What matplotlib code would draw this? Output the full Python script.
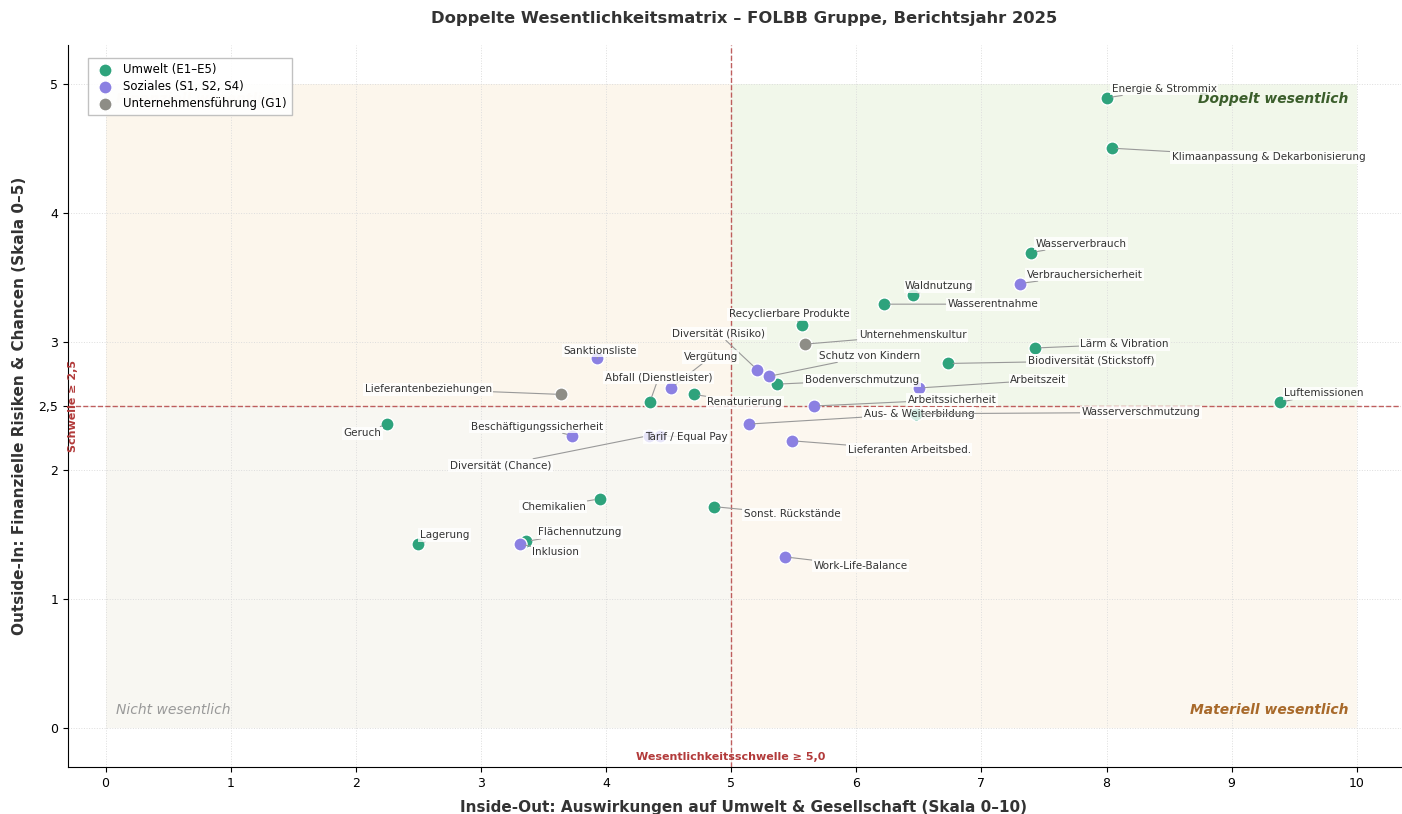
import numpy as np
import matplotlib
matplotlib.use("Agg")
import matplotlib.pyplot as plt
from matplotlib.patches import Rectangle

# --- data -------------------------------------------------------------
topics = [
    "Energie & Strommix", "Klimaanpassung & Dekarbonisierung", "Wasserverbrauch",
    "Verbrauchersicherheit", "Waldnutzung", "Wasserentnahme", "Recyclierbare Produkte",
    "Unternehmenskultur", "Lärm & Vibration", "Biodiversität (Stickstoff)",
    "Diversität (Risiko)", "Schutz von Kindern", "Bodenverschmutzung", "Vergütung",
    "Renaturierung", "Abfall (Dienstleister)", "Sanktionsliste", "Lieferantenbeziehungen",
    "Geruch", "Beschäftigungssicherheit", "Diversität (Chance)", "Tarif / Equal Pay",
    "Arbeitszeit", "Arbeitssicherheit", "Aus- & Weiterbildung", "Wasserverschmutzung",
    "Lieferanten Arbeitsbed.", "Luftemissionen", "Chemikalien", "Sonst. Rückstände",
    "Lagerung", "Flächennutzung", "Inklusion", "Work-Life-Balance",
]
impact = [8.00, 8.04, 7.40, 7.31, 6.45, 6.22, 5.57, 5.59, 7.43, 6.73,
          5.21, 5.30, 5.37, 4.52, 4.70, 4.35, 3.93, 3.64, 2.25, 3.73,
          4.34, 4.43, 6.50, 5.66, 5.14, 6.48, 5.49, 9.39, 3.95, 4.86,
          2.50, 3.36, 3.31, 5.43]
financial = [4.89, 4.50, 3.69, 3.45, 3.36, 3.29, 3.13, 2.98, 2.95, 2.83,
             2.78, 2.73, 2.67, 2.64, 2.59, 2.53, 2.87, 2.59, 2.36, 2.27,
             2.27, 2.27, 2.64, 2.50, 2.36, 2.44, 2.23, 2.53, 1.78, 1.72,
             1.43, 1.45, 1.43, 1.33]
category = ["E", "E", "E", "S", "E", "E", "E", "G", "E", "E",
            "S", "S", "E", "S", "E", "E", "S", "G", "E", "S",
            "S", "S", "S", "S", "S", "E", "S", "E", "E", "E",
            "E", "E", "S", "S"]

cat_names = {"E": "Umwelt (E1–E5)", "S": "Soziales (S1, S2, S4)",
             "G": "Unternehmensführung (G1)"}
cat_colors = {"E": "#2ea37c", "S": "#8b80e2", "G": "#8e8d86"}

# label placement (left edge of text, data coords)
label_pos = {
    "Energie & Strommix": (8.04, 4.96),
    "Klimaanpassung & Dekarbonisierung": (8.52, 4.43),
    "Wasserverbrauch": (7.43, 3.76),
    "Verbrauchersicherheit": (7.36, 3.52),
    "Waldnutzung": (6.39, 3.43),
    "Wasserentnahme": (6.73, 3.29),
    "Recyclierbare Produkte": (4.98, 3.21),
    "Unternehmenskultur": (6.02, 3.05),
    "Lärm & Vibration": (7.79, 2.98),
    "Biodiversität (Stickstoff)": (7.37, 2.85),
    "Diversität (Risiko)": (4.53, 3.06),
    "Schutz von Kindern": (5.70, 2.89),
    "Bodenverschmutzung": (5.59, 2.70),
    "Vergütung": (4.62, 2.88),
    "Renaturierung": (4.81, 2.53),
    "Abfall (Dienstleister)": (3.99, 2.72),
    "Sanktionsliste": (3.66, 2.93),
    "Lieferantenbeziehungen": (2.07, 2.63),
    "Geruch": (1.90, 2.29),
    "Beschäftigungssicherheit": (2.92, 2.34),
    "Diversität (Chance)": (2.75, 2.04),
    "Tarif / Equal Pay": (4.31, 2.26),
    "Arbeitszeit": (7.23, 2.70),
    "Arbeitssicherheit": (6.41, 2.55),
    "Aus- & Weiterbildung": (6.06, 2.44),
    "Wasserverschmutzung": (7.80, 2.45),
    "Lieferanten Arbeitsbed.": (5.93, 2.16),
    "Luftemissionen": (9.42, 2.60),
    "Chemikalien": (3.32, 1.72),
    "Sonst. Rückstände": (5.10, 1.66),
    "Lagerung": (2.51, 1.50),
    "Flächennutzung": (3.46, 1.52),
    "Inklusion": (3.41, 1.37),
    "Work-Life-Balance": (5.66, 1.26),
}

x_thr, y_thr = 5.0, 2.5
red = "#b23a3a"

# --- figure -----------------------------------------------------------
fig = plt.figure(figsize=(14.02, 8.14), dpi=100)
ax = fig.add_axes([0.0485, 0.0577, 0.9505, 0.887])

# quadrant backgrounds
ax.add_patch(Rectangle((0, y_thr), x_thr, 5 - y_thr, color="#fcf6ec", zorder=0, lw=0))
ax.add_patch(Rectangle((x_thr, y_thr), 10 - x_thr, 5 - y_thr, color="#f1f7ea", zorder=0, lw=0))
ax.add_patch(Rectangle((0, 0), x_thr, y_thr, color="#f8f7f2", zorder=0, lw=0))
ax.add_patch(Rectangle((x_thr, 0), 10 - x_thr, y_thr, color="#fcf7ef", zorder=0, lw=0))

ax.text(9.93, 4.88, "Doppelt wesentlich", ha="right", va="center", fontsize=10,
        fontweight="bold", style="italic", color="#3b5e2b", zorder=1)
ax.text(0.08, 4.88, "Finanziell wesentlich", ha="left", va="center", fontsize=10,
        fontweight="bold", style="italic", color="#f2e6d2", zorder=1)
ax.text(9.93, 0.14, "Materiell wesentlich", ha="right", va="center", fontsize=10,
        fontweight="bold", style="italic", color="#a8692a", zorder=1)
ax.text(0.08, 0.14, "Nicht wesentlich", ha="left", va="center", fontsize=10,
        style="italic", color="#999999", zorder=1)

# thresholds
ax.axvline(x_thr, color=red, ls="--", lw=1, alpha=0.8, zorder=2)
ax.axhline(y_thr, color=red, ls="--", lw=1, alpha=0.8, zorder=2)
ax.text(x_thr, -0.22, "Wesentlichkeitsschwelle ≥ 5,0", ha="center", va="center",
        fontsize=8, fontweight="bold", color=red)
ax.text(-0.26, y_thr, "Schwelle ≥ 2,5", ha="center", va="center", rotation=90,
        fontsize=8, fontweight="bold", color=red)

# points per category
for key in ["E", "S", "G"]:
    xs = [x for x, c in zip(impact, category) if c == key]
    ys = [y for y, c in zip(financial, category) if c == key]
    ax.scatter(xs, ys, s=90, color=cat_colors[key], edgecolor="white",
               linewidth=1, label=cat_names[key], zorder=3)

# labels
for name, x, y in zip(topics, impact, financial):
    tx, ty = label_pos[name]
    ax.annotate(name, xy=(x, y), xytext=(tx, ty), ha="left", va="center",
                fontsize=7.5, color="#333333", zorder=4,
                bbox=dict(boxstyle="square,pad=0.15", fc="white", ec="none", alpha=0.8),
                arrowprops=dict(arrowstyle="-", color="#999999", lw=0.8,
                                shrinkA=0, shrinkB=4))

ax.set_xlim(-0.3, 10.35)
ax.set_ylim(-0.3, 5.3)
ax.set_xticks(range(0, 11))
ax.set_yticks([0, 1, 2, 2.5, 3, 4, 5])
ax.set_yticklabels(["0", "1", "2", "2,5", "3", "4", "5"])
ax.tick_params(labelsize=9)
ax.grid(True, ls=":", color="#dddddd", lw=0.7, zorder=0)
ax.set_axisbelow(True)
for s in ["top", "right"]:
    ax.spines[s].set_visible(False)

ax.set_xlabel("Inside-Out: Auswirkungen auf Umwelt & Gesellschaft (Skala 0–10)",
              fontsize=11, fontweight="bold", color="#333333")
ax.xaxis.set_label_coords(0.507, -0.045)
ax.set_ylabel("Outside-In: Finanzielle Risiken & Chancen (Skala 0–5)",
              fontsize=11, fontweight="bold", color="#333333", labelpad=8)
fig.text(0.531, 0.977, "Doppelte Wesentlichkeitsmatrix – FOLBB Gruppe, Berichtsjahr 2025",
         ha="center", va="center", fontsize=11.8, fontweight="bold", color="#333333")

leg = ax.legend(loc="upper left", fontsize=8.5, fancybox=False, framealpha=0.9,
                edgecolor="#bbbbbb", bbox_to_anchor=(0.015, 0.982), borderaxespad=0,
                handletextpad=0.6, borderpad=0.4, labelspacing=0.35)
leg.set_zorder(5)

fig.savefig("out.png", dpi=100)
